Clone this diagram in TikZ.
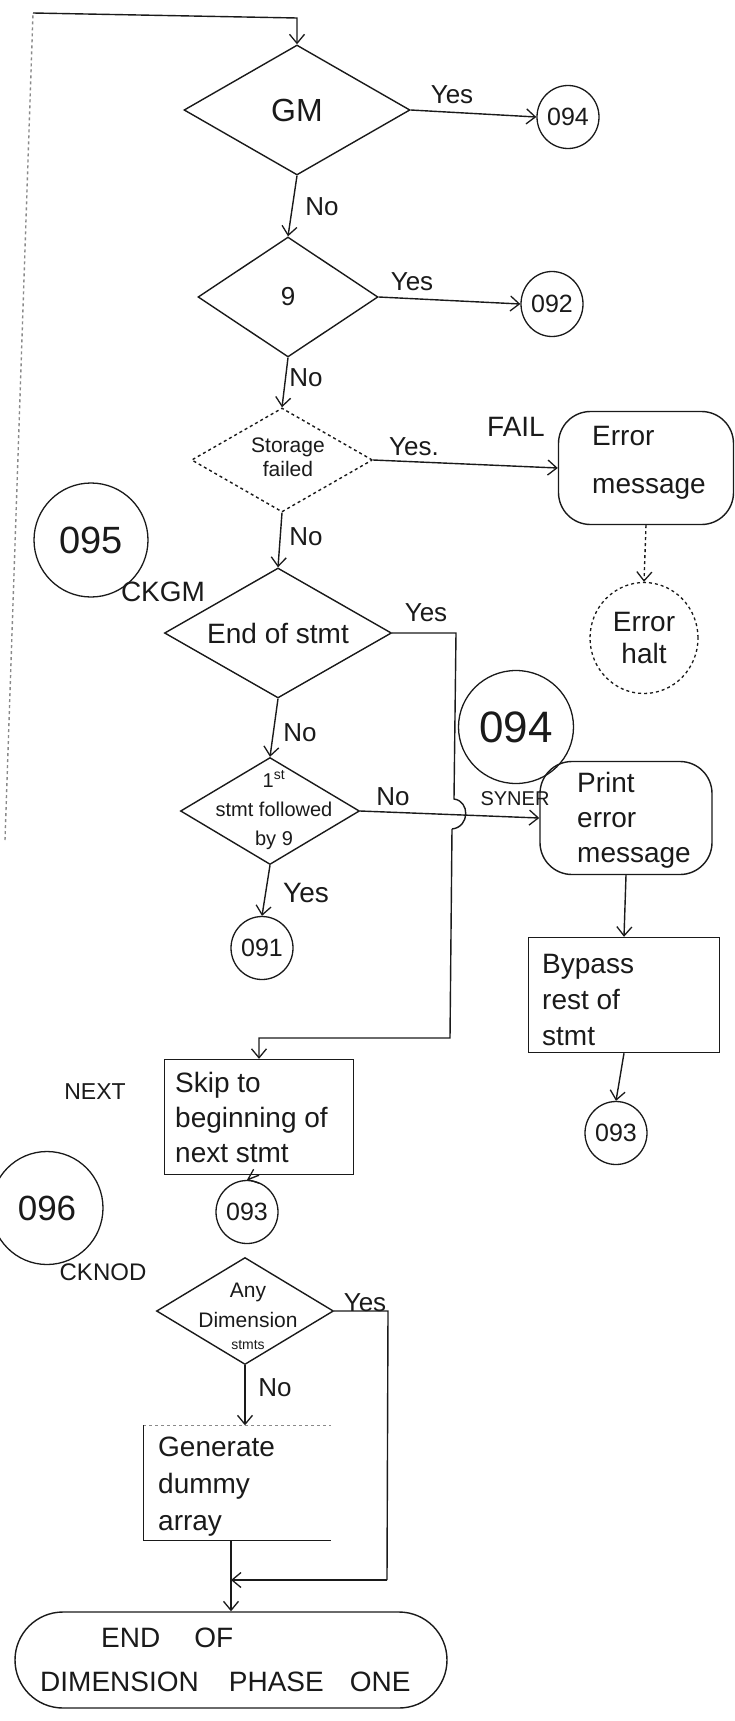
\documentclass[tikz,border=0pt]{standalone}
\usepackage{fontspec}
\setmainfont{Liberation Sans}
\usetikzlibrary{shapes.geometric,shapes.misc,arrows.meta}
\definecolor{ink}{HTML}{1A1A1A}
\definecolor{faint}{HTML}{8A8A8A}
\begin{document}
\begin{tikzpicture}[x=1pt,y=-1pt,
  line/.style={draw=ink, line width=1.4pt},
  arr/.style={line, -{Straight Barb[length=9pt,width=15pt,line width=1.3pt]}},
  dia/.style={diamond, draw=ink, line width=1.4pt, inner sep=0pt},
  dtext/.style={align=center, inner sep=0pt, text=ink},
  conn/.style={ellipse, draw=ink, line width=1.3pt, inner sep=0pt, text=ink, font=\fontsize{25}{27}\selectfont},
  box/.style={rectangle, draw=ink, line width=1.4pt, inner sep=0pt},
  rbox/.style={box, rounded corners=32pt},
  btext/.style={anchor=west, align=left, inner sep=0pt, text=ink, font=\fontsize{28}{36}\selectfont},
  lab/.style={font=\fontsize{26}{28}\selectfont, text=ink, inner sep=0pt},
]
\useasboundingbox (0,0) rectangle (735,1721);

% ---------- decisions ----------
\node[dia, minimum width=226pt, minimum height=130pt] (gm) at (297,110) {};
\node[dtext, font=\fontsize{32}{34}\selectfont] (gmt) at (gm) {GM};
\node[dia, minimum width=180pt, minimum height=120pt] (d9) at (288,297) {};
\node[dtext, font=\fontsize{26}{28}\selectfont] (d9t) at (d9) {9};
\node[dia, dashed, minimum width=181pt, minimum height=104pt] (st) at (282,460) {};
\node[dtext, font=\fontsize{21}{24}\selectfont] (stt) at (288,457) {Storage\\failed};
\node[dia, minimum width=227pt, minimum height=130pt] (eos) at (278,633) {};
\node[dtext, font=\fontsize{28}{30}\selectfont] (eost) at (eos) {End of stmt};
\node[dia, minimum width=179pt, minimum height=107pt] (d1) at (270,811) {};
\node[dtext, font=\fontsize{20}{29}\selectfont] (d1t) at (274,810) {1\textsuperscript{st}\\stmt followed\\by 9};
\node[dia, minimum width=177pt, minimum height=107pt] (any) at (245,1311) {};
\node[dtext, font=\fontsize{21}{30}\selectfont] (anyt) at (248,1316) {Any\\Dimension\\[-8pt]{\fontsize{14}{16}\selectfont stmts}};

% ---------- connectors (circles) ----------
\node[conn, minimum width=62pt, minimum height=63pt] (c094a) at (568,117) {094};
\node[conn, minimum width=62pt, minimum height=65pt] (c092) at (552,304) {092};
\node[conn, minimum width=114pt, minimum height=114pt, font=\fontsize{38}{40}\selectfont] (c095) at (91,540) {095};
\node[conn, minimum width=115pt, minimum height=113pt, font=\fontsize{44}{46}\selectfont] (c094b) at (516,727) {094};
\node[conn, minimum width=62pt, minimum height=63pt] (c091) at (262,948) {091};
\node[conn, minimum width=62pt, minimum height=63pt] (c093a) at (247,1212) {093};
\node[conn, minimum width=62pt, minimum height=63pt] (c093b) at (616,1133) {093};
\begin{scope}
\clip (0,0) rectangle (735,1721);
\node[conn, minimum width=112pt, minimum height=113pt, font=\fontsize{35}{37}\selectfont] (c096) at (47,1208) {096};
\end{scope}
\node[conn, dashed, minimum width=108pt, minimum height=111pt, align=center, font=\fontsize{28}{32}\selectfont] (ehalt) at (644,638) {Error\\halt};

% ---------- boxes ----------
\node[rbox, minimum width=175pt, minimum height=113pt] (emsg) at (646,468) {};
\node[btext, font=\fontsize{28}{48}\selectfont] (emsgt) at (592,463) {Error\\message};
\node[rbox, minimum width=172pt, minimum height=113pt] (pem) at (626,818) {};
\node[btext, font=\fontsize{28}{35}\selectfont] (pemt) at (577,820) {Print\\error\\message};
\node[box, minimum width=191pt, minimum height=115pt] (byp) at (624,995) {};
\node[btext] (bypt) at (542,1000) {Bypass\\rest of\\stmt};
\node[box, minimum width=189pt, minimum height=115pt] (skip) at (259,1117) {};
\node[btext, font=\fontsize{28}{35}\selectfont] (skipt) at (175,1117) {Skip to\\beginning of\\next stmt};
\node[minimum width=187pt, minimum height=115pt, inner sep=0pt] (gen) at (237,1483) {};
\draw[line, draw=faint, dashed] (gen.north west) -- (gen.north east);
\draw[line] (gen.north west) -- (gen.south west) -- (gen.south east);
\node[btext, font=\fontsize{28}{37}\selectfont] (gent) at (158,1487) {Generate\\dummy\\array};
\node[rounded rectangle, draw=ink, line width=1.4pt, minimum width=432pt, minimum height=96pt, inner sep=0pt] (endb) at (231,1660) {};
\node[btext, font=\fontsize{28}{44}\selectfont] (endt) at (40,1660) {\hspace*{61pt}END\hspace{34pt}OF\\DIMENSION\hspace{30pt}PHASE\hspace{26pt}ONE};

% ---------- labels ----------
\node[lab] (yes1) at (452,95) {Yes};
\node[lab] (no1) at (322,207) {No};
\node[lab] (yes2) at (412,282) {Yes};
\node[lab] (no2) at (306,378) {No};
\node[lab] (yes3) at (414,447) {Yes.};
\node[lab, font=\fontsize{28}{30}\selectfont] (fail) at (516,427) {FAIL};
\node[lab] (no3) at (306,537) {No};
\node[lab, font=\fontsize{28}{30}\selectfont] (ckgm) at (163,592) {CKGM};
\node[lab] (yes4) at (426,613) {Yes};
\node[lab] (no4) at (300,733) {No};
\node[lab] (no5) at (393,797) {No};
\node[lab, font=\fontsize{20}{22}\selectfont] (syner) at (515,799) {SYNER};
\node[lab, font=\fontsize{28}{30}\selectfont] (yes5) at (306,893) {Yes};
\node[lab, font=\fontsize{23}{25}\selectfont] (next) at (95,1092) {NEXT};
\node[lab, font=\fontsize{24}{26}\selectfont] (cknod) at (103,1272) {CKNOD};
\node[lab] (yes6) at (365,1303) {Yes};
\node[lab] (no6) at (275,1388) {No};

% ---------- coordinates ----------
\coordinate (lbot) at (5,840);
\coordinate (tl) at (33,13);
\coordinate (tr) at (297,18);
\coordinate (eosr) at (456,633);
\coordinate (hopA) at (454,799);
\coordinate (hopC1) at (470,801);
\coordinate (hopC2) at (470,827);
\coordinate (hopB) at (452,829);
\coordinate (skc) at (450,1038);
\coordinate (anyr) at (388,1311);
\coordinate (anyb) at (387,1580);

% ---------- edges ----------
\draw[line, draw=faint, dashed] (lbot) -- (tl);
\draw[arr] (tl) -- (tr) -- (gm.north);
\draw[arr] (gm.east) -- (c094a.west);
\draw[arr] (gm.south) -- (d9.north);
\draw[arr] (d9.east) -- (c092.west);
\draw[arr] (d9.south) -- (st.north);
\draw[arr] (st.east) -- (emsg.west);
\draw[arr, dashed] (emsg.south) -- (ehalt.north);
\draw[arr] (st.south) -- (eos.north);
\draw[arr] (eos.south) -- (d1.north);
\draw[line] (eos.east) -- (eosr) -- (hopA) .. controls (hopC1) and (hopC2) .. (hopB);
\draw[arr] (hopB) -- (skc) -| (skip.north);
\draw[arr] (d1.east) -- (pem.west);
\draw[arr] (d1.south) -- (c091.north);
\draw[arr] (pem.south) -- (byp.north);
\draw[arr] (byp.south) -- (c093b.north);
\draw[arr] (skip.south) -- (c093a.north);
\draw[arr] (any.south) -- (gen.north -| any.south);
\draw[line] (any.east) -- (anyr) -- (anyb);
\draw[arr] (anyb) -- (endb.north |- anyb);
\draw[arr] (gen.south -| endb.north) -- (endb.north);
\end{tikzpicture}
\end{document}
